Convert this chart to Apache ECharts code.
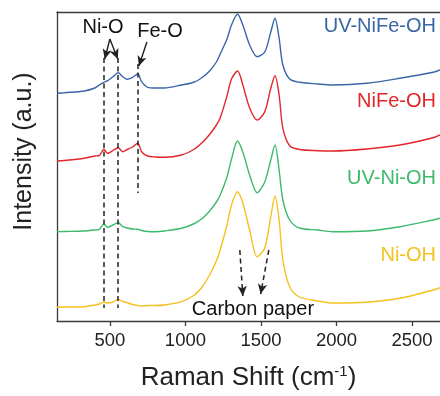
<!DOCTYPE html>
<html>
<head>
<meta charset="utf-8">
<script src="https://cdn.jsdelivr.net/npm/echarts@6/dist/echarts.min.js"></script>
<style>
  html, body { margin: 0; padding: 0; background: #fff; }
  #chart { width: 440px; height: 396px; }
</style>
</head>
<body>
<div id="chart"></div>
<script>
// Raman shift sampling points (cm^-1), shared by all four spectra
const wavenumber = [150, 200, 330, 400, 430, 460, 485, 520, 555, 585, 615, 650, 685, 710, 750, 800, 860, 975, 1060, 1115, 1160, 1205, 1230, 1275, 1305, 1345, 1380, 1425, 1475, 1525, 1565, 1593, 1620, 1645, 1690, 1755, 1875, 1975, 2200, 2420, 2640, 2685];

// Stacked (offset) intensities, arbitrary units
const uvNiFeOH = [227.7, 228.3, 230, 233, 236, 238.7, 240.3, 244.3, 248.3, 244.3, 241.7, 243.7, 247, 239.3, 233.7, 233, 233, 236, 239, 244, 250, 259, 267, 282, 296, 306.7, 296, 276, 264.3, 269, 289, 302.7, 283, 256, 242, 238.7, 237, 236, 237.7, 242.7, 248.7, 251];
const niFeOH = [160, 160.5, 162.7, 165, 165.5, 171.7, 167.7, 170.5, 173.3, 169.3, 171.5, 174, 177.7, 169.3, 165, 164, 163.7, 166, 172, 179, 186.5, 196, 203, 225, 242, 250, 236, 213, 201, 209.3, 232.7, 245.3, 226, 192.7, 175.3, 171.5, 170.3, 170, 172, 176, 183.3, 186];
const uvNiOH = [89.3, 89.5, 90, 91, 91.7, 97, 93.7, 96, 98.3, 94.3, 93, 92, 91.7, 90.5, 89.5, 89.3, 90, 92.7, 97.5, 103, 110, 119, 126, 144, 162, 180, 169, 146, 128.3, 139, 161, 176, 151, 121, 101, 93, 91, 89.3, 90, 94.3, 101, 102.7];
const niOH = [13.7, 14, 14.3, 16, 17, 19, 18, 19, 21.7, 19.5, 18.3, 16.5, 15.5, 15, 15.5, 15.5, 16, 19.3, 26, 35, 46, 60, 71, 96, 116, 129.3, 118, 91, 64.3, 73, 104.3, 125, 101, 61, 34.3, 24, 20, 18, 18.7, 22.7, 31, 33.3];

const seriesNames = ['UV-NiFe-OH', 'NiFe-OH', 'UV-Ni-OH', 'Ni-OH'];
const seriesValues = [uvNiFeOH, niFeOH, uvNiOH, niOH];
const seriesColors = ['#3a66a7', '#e2262a', '#3dba6c', '#f5c11e'];

// X axis tick values
const xTicks = [500, 1000, 1500, 2000, 2500];

// Band positions marked on the plot (cm^-1)
const niOBands = [461, 555];
const feOBand = 685;

const FONT = '"Liberation Sans", Arial, sans-serif';
const AXIS_COLOR = '#3a3a3a';

const chart = echarts.init(document.getElementById('chart'), null, { renderer: 'canvas' });

function toPairs(values) {
  return wavenumber.map((x, i) => [x, values[i]]);
}

const dashStyle = { color: '#222', width: 1.5, type: [5, 3.5] };
const solidArrow = { color: '#222', width: 1.4, type: 'solid' };

function segment(a, b, style, arrow) {
  return [
    { coord: a, symbol: 'none', lineStyle: style },
    { coord: b, symbol: arrow ? 'arrow' : 'none', symbolSize: arrow ? [7, 10] : 0, lineStyle: style }
  ];
}

const annotationLines = [
  // Ni-O guides
  segment([niOBands[0], 263], [niOBands[0], 13], dashStyle, false),
  segment([niOBands[1], 263], [niOBands[1], 13], dashStyle, false),
  // Fe-O guide
  segment([feOBand, 257], [feOBand, 128], dashStyle, false),
  // Ni-O arrows
  segment([500, 282], [466, 262], solidArrow, true),
  segment([500, 282], [552, 262], solidArrow, true),
  // Fe-O arrow
  segment([745, 279], [692, 255], solidArrow, true),
  // carbon paper arrows
  segment([1360, 71], [1380, 25], dashStyle, true),
  segment([1552, 71], [1498, 27], dashStyle, true)
];

const series = seriesNames.map((name, i) => ({
  name: name,
  type: 'line',
  data: toPairs(seriesValues[i]),
  showSymbol: false,
  smooth: 0.3,
  lineStyle: { color: seriesColors[i], width: 1.4 },
  itemStyle: { color: seriesColors[i] },
  z: 3
}));

series[0].markLine = {
  silent: true,
  animation: false,
  label: { show: false },
  symbol: ['none', 'none'],
  data: annotationLines
};

function sideLabel(text, y, color) {
  return {
    type: 'text',
    right: 4,
    top: y - 11,
    style: { text: text, fill: color, font: '20px ' + FONT }
  };
}

chart.setOption({
  animation: false,
  backgroundColor: '#fff',
  grid: { left: 57, right: 0, top: 12, bottom: 75 },
  xAxis: [
    {
      type: 'value',
      min: 150,
      max: 2685,
      position: 'bottom',
      axisLine: { show: true, lineStyle: { color: AXIS_COLOR, width: 1.3 } },
      axisTick: { show: true, inside: false, length: 5, customValues: xTicks, lineStyle: { color: AXIS_COLOR, width: 1.3 } },
      axisLabel: {
        color: '#222', fontFamily: FONT, fontSize: 18.5, margin: 10,
        customValues: xTicks,
        formatter: (v) => String(v)
      },
      splitLine: { show: false },
      name: 'Raman Shift (cm{sup|-1})',
      nameLocation: 'middle',
      nameGap: 43,
      nameTextStyle: {
        color: '#222', fontFamily: FONT, fontSize: 26,
        rich: { sup: { fontFamily: FONT, fontSize: 15, color: '#222', padding: [0, 0, 13, 0] } }
      }
    },
    {
      type: 'value',
      min: 150,
      max: 2685,
      position: 'top',
      axisLine: { show: true, lineStyle: { color: AXIS_COLOR, width: 1.3 } },
      axisTick: { show: false },
      axisLabel: { show: false },
      splitLine: { show: false }
    }
  ],
  yAxis: {
    type: 'value',
    min: 0,
    max: 309,
    axisLine: { show: true, lineStyle: { color: AXIS_COLOR, width: 1.3 } },
    axisTick: { show: false },
    axisLabel: { show: false },
    splitLine: { show: false },
    name: 'Intensity (a.u.)',
    nameLocation: 'middle',
    nameGap: 20,
    nameTextStyle: { color: '#222', fontFamily: FONT, fontSize: 25, padding: [0, 0, 0, 30] }
  },
  series: series,
  graphic: [
    { type: 'text', x: 103, y: 27, style: { text: 'Ni-O', fill: '#111', font: '20px ' + FONT, align: 'center', verticalAlign: 'middle' } },
    { type: 'text', x: 160, y: 31, style: { text: 'Fe-O', fill: '#111', font: '20px ' + FONT, align: 'center', verticalAlign: 'middle' } },
    { type: 'text', x: 253, y: 309, style: { text: 'Carbon paper', fill: '#111', font: '20px ' + FONT, align: 'center', verticalAlign: 'middle' } },
    sideLabel(seriesNames[0], 27, seriesColors[0]),
    sideLabel(seriesNames[1], 102, seriesColors[1]),
    sideLabel(seriesNames[2], 179, seriesColors[2]),
    sideLabel(seriesNames[3], 256, seriesColors[3])
  ]
});
</script>
</body>
</html>
